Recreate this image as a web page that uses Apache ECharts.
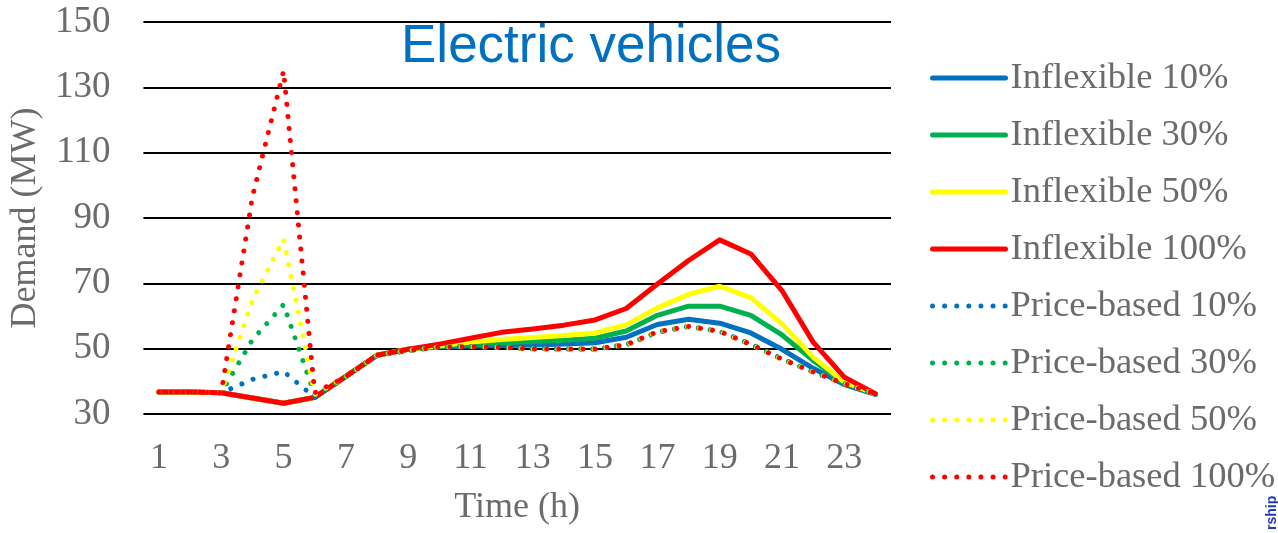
<!DOCTYPE html>
<html>
<head>
<meta charset="utf-8">
<script src="https://cdn.jsdelivr.net/npm/echarts@6/dist/echarts.min.js"></script>
<style>
  html, body { margin: 0; padding: 0; background: #fff; }
  #chart { width: 1278px; height: 533px; }
</style>
</head>
<body>
<div id="chart"></div>
<script>
// Hourly electric-vehicle demand (MW) for each charging scenario
const hours = ['1','2','3','4','5','6','7','8','9','10','11','12','13','14','15','16','17','18','19','20','21','22','23','24'];

const inflexible10  = [36.7, 36.7, 36.5, 34.9, 33.3, 35.1, 41.5, 48.0, 49.8, 50.5, 50.8, 51.0, 51.1, 51.4, 51.8, 53.5, 57.4, 59.0, 57.8, 54.8, 49.8, 44.0, 39.0, 36.0];
const inflexible30  = [36.7, 36.7, 36.5, 34.9, 33.3, 35.1, 41.5, 48.0, 49.8, 50.7, 51.3, 51.8, 52.2, 52.6, 53.2, 55.4, 60.2, 63.0, 63.0, 60.2, 54.2, 46.4, 39.5, 36.1];
const inflexible50  = [36.7, 36.7, 36.5, 34.9, 33.3, 35.1, 41.5, 48.0, 49.8, 50.9, 52.0, 52.8, 53.4, 54.0, 54.8, 57.3, 62.5, 66.6, 69.1, 65.6, 57.6, 47.4, 39.8, 36.2];
const inflexible100 = [36.7, 36.7, 36.5, 34.9, 33.3, 35.1, 41.5, 48.0, 49.8, 51.4, 53.2, 55.0, 56.0, 57.2, 58.8, 62.3, 69.8, 77.0, 83.3, 79.0, 67.8, 52.0, 41.3, 36.2];

const price10  = [36.7, 36.7, 36.5, 40.6, 43.0, 35.1, 41.4, 48.0, 49.4, 50.5, 50.6, 50.4, 50.0, 49.9, 49.9, 51.2, 55.0, 56.8, 55.3, 51.4, 46.9, 42.9, 39.2, 36.1];
const price30  = [36.7, 36.7, 36.5, 52.7, 63.5, 35.8, 41.4, 48.0, 49.4, 50.5, 50.6, 50.4, 50.0, 49.9, 49.9, 51.2, 55.1, 56.8, 55.3, 51.3, 46.8, 42.9, 39.3, 36.2];
const price50  = [36.7, 36.7, 36.5, 64.9, 83.5, 36.0, 41.4, 48.0, 49.4, 50.5, 50.6, 50.4, 49.9, 49.9, 49.9, 51.2, 55.2, 56.8, 55.3, 51.3, 46.8, 42.9, 39.3, 36.2];
const price100 = [36.7, 36.7, 36.5, 96.5, 135.0, 36.5, 41.4, 48.0, 49.4, 50.5, 50.6, 50.4, 49.9, 49.9, 49.9, 51.2, 55.2, 56.8, 55.3, 51.3, 46.8, 42.9, 39.3, 36.2];

const yTicks = { min: 30, max: 150, step: 20 };

const BLUE = '#0070C0', GREEN = '#00B050', YELLOW = '#FFFF00', RED = '#FF0000';
const SERIF = '"Liberation Serif", "Times New Roman", serif';
const LABEL_GREY = '#6b6b6b';

function solid(name, data, color) {
  return {
    name, type: 'line', data, symbol: 'none', animation: false,
    lineStyle: { color, width: 5, cap: 'round', join: 'round' },
    itemStyle: { color }
  };
}
function dotted(name, data, color) {
  return {
    name, type: 'line', data, symbol: 'none', animation: false,
    lineStyle: { color, width: 5, type: [0.01, 12.1], cap: 'round', join: 'round' },
    itemStyle: { color }
  };
}

const series = [
  solid('Inflexible 10%', inflexible10, BLUE),
  solid('Inflexible 30%', inflexible30, GREEN),
  solid('Inflexible 50%', inflexible50, YELLOW),
  solid('Inflexible 100%', inflexible100, RED),
  dotted('Price-based 10%', price10, BLUE),
  dotted('Price-based 30%', price30, GREEN),
  dotted('Price-based 50%', price50, YELLOW),
  dotted('Price-based 100%', price100, RED)
];

const chart = echarts.init(document.getElementById('chart'), null, { renderer: 'canvas' });
chart.setOption({
  animation: false,
  backgroundColor: '#ffffff',
  title: {
    text: 'Electric vehicles',
    left: 586, top: 16, textAlign: 'center',
    textStyle: { fontFamily: '"Liberation Sans", Arial, sans-serif', fontSize: 53, fontWeight: 'normal', color: '#0070C0' }
  },
  grid: { left: 141, right: 387, top: 22, bottom: 119, containLabel: false },
  legend: {
    orient: 'vertical', left: 930, top: 58, padding: 0,
    itemWidth: 73, itemHeight: 14, itemGap: 17,
    itemStyle: { opacity: 0, borderWidth: 0 },
    lineStyle: { width: 'inherit', type: 'inherit', cap: 'inherit' },
    textStyle: { fontFamily: SERIF, fontSize: 36.5, color: LABEL_GREY, lineHeight: 40 },
    data: series.map(s => s.name)
  },
  xAxis: {
    type: 'category', data: hours, boundaryGap: true,
    name: 'Time (h)', nameLocation: 'middle', nameGap: 76,
    nameTextStyle: { fontFamily: SERIF, fontSize: 36, color: LABEL_GREY },
    axisLine: { show: false }, axisTick: { show: false },
    axisLabel: { interval: 1, margin: 27, fontFamily: SERIF, fontSize: 36, color: LABEL_GREY }
  },
  yAxis: {
    type: 'value', min: yTicks.min, max: yTicks.max, interval: yTicks.step,
    name: 'Demand (MW)', nameLocation: 'middle', nameGap: 92,
    nameTextStyle: { fontFamily: SERIF, fontSize: 36, color: LABEL_GREY },
    axisLine: { show: false }, axisTick: { show: false },
    axisLabel: { margin: 33, fontFamily: SERIF, fontSize: 37, color: LABEL_GREY },
    splitLine: { show: true, lineStyle: { color: '#000000', width: 2 } }
  },
  graphic: [{
    type: 'text', x: 1272, y: 530, rotation: Math.PI / 2,
    style: { text: 'rship', font: 'bold 14px "Liberation Sans", Arial, sans-serif', fill: '#2438b4', textAlign: 'left', textVerticalAlign: 'middle' }
  }],
  series
});
</script>
</body>
</html>
